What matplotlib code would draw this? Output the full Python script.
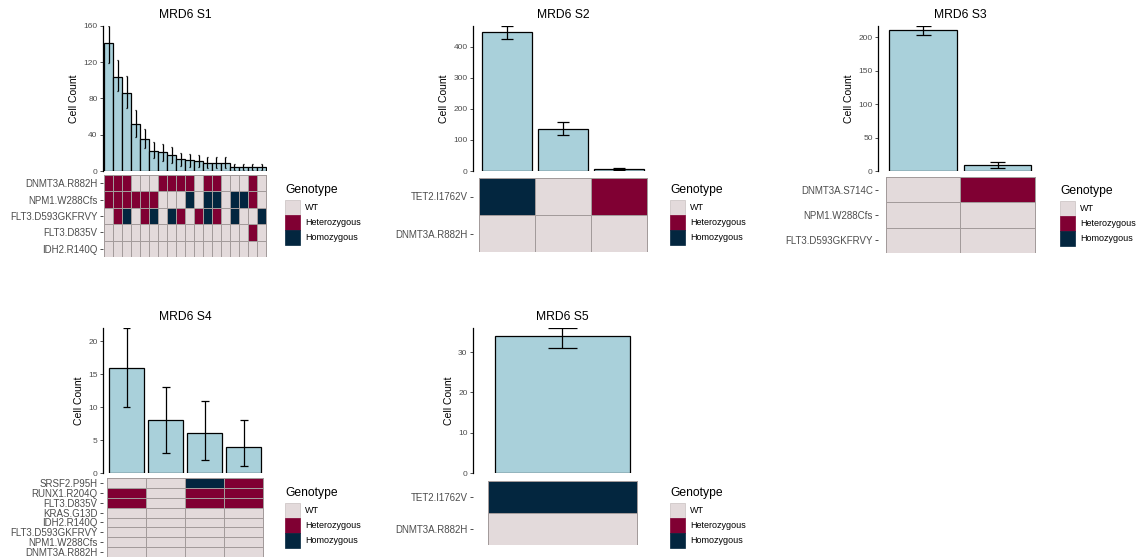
import matplotlib
matplotlib.use("Agg")
import matplotlib.pyplot as plt
import numpy as np
from matplotlib.colors import ListedColormap
from matplotlib.patches import Rectangle

plt.rcParams['font.family'] = ['Liberation Sans', 'DejaVu Sans']

W, H = 1145, 558

# genotype codes: 0 = WT, 1 = Heterozygous, 2 = Homozygous
geno_labels = ["WT", "Heterozygous", "Homozygous"]
geno_colors = ["#e3dadb", "#800033", "#03263f"]

# MRD6 S1
s1_counts = [141, 104, 86, 52, 35, 22, 21, 18, 13, 12, 11, 9, 9, 9, 4, 4, 4, 4]
s1_lo = [119, 88, 69, 38, 25, 14, 11, 9, 6, 4, 4, 3, 3, 3, 1, 1, 1, 1]
s1_hi = [160, 123, 105, 67, 46, 32, 30, 26, 20, 19, 18, 15, 15, 15, 8, 8, 8, 8]
s1_genes = ["DNMT3A.R882H", "NPM1.W288Cfs", "FLT3.D593GKFRVY", "FLT3.D835V", "IDH2.R140Q"]
s1_geno = [
    [1, 1, 1, 0, 0, 0, 1, 1, 1, 1, 0, 1, 1, 0, 0, 0, 1, 0],
    [1, 1, 1, 1, 1, 1, 0, 0, 0, 2, 0, 2, 2, 0, 2, 2, 1, 0],
    [0, 1, 2, 0, 1, 2, 0, 2, 1, 0, 1, 2, 1, 0, 2, 0, 0, 2],
    [0, 0, 0, 0, 0, 0, 0, 0, 0, 0, 0, 0, 0, 0, 0, 0, 1, 0],
    [0, 0, 0, 0, 0, 0, 0, 0, 0, 0, 0, 0, 0, 0, 0, 0, 0, 0],
]
s1_ticks = [0, 40, 80, 120, 160]

# MRD6 S2
s2_counts = [446, 135, 6]
s2_lo = [425, 116, 2]
s2_hi = [466, 156, 10]
s2_genes = ["TET2.I1762V", "DNMT3A.R882H"]
s2_geno = [[2, 0, 1], [0, 0, 0]]
s2_ticks = [0, 100, 200, 300, 400]

# MRD6 S3
s3_counts = [211, 9]
s3_lo = [204, 4]
s3_hi = [217, 14]
s3_genes = ["DNMT3A.S714C", "NPM1.W288Cfs", "FLT3.D593GKFRVY"]
s3_geno = [[0, 1], [0, 0], [0, 0]]
s3_ticks = [0, 50, 100, 150, 200]

# MRD6 S4
s4_counts = [16, 8, 6, 4]
s4_lo = [10, 3, 2, 1]
s4_hi = [22, 13, 11, 8]
s4_genes = ["SRSF2.P95H", "RUNX1.R204Q", "FLT3.D835V", "KRAS.G13D", "IDH2.R140Q",
            "FLT3.D593GKFRVY", "NPM1.W288Cfs", "DNMT3A.R882H"]
s4_geno = [[0, 0, 2, 1], [1, 0, 1, 1], [1, 0, 1, 1], [0, 0, 0, 0],
           [0, 0, 0, 0], [0, 0, 0, 0], [0, 0, 0, 0], [0, 0, 0, 0]]
s4_ticks = [0, 5, 10, 15, 20]

# MRD6 S5
s5_counts = [34]
s5_lo = [31]
s5_hi = [36]
s5_genes = ["TET2.I1762V", "DNMT3A.R882H"]
s5_geno = [[2], [0]]
s5_ticks = [0, 10, 20, 30]

BAR_FILL = "#a9d0da"
TILE_EDGE = "#a39b9b"
TEXT_GRAY = "#4d4d4d"

fig = plt.figure(figsize=(W / 100, H / 100), dpi=100)
fig.patch.set_facecolor("white")


def px_box(x0, y0, x1, y1):
    return [x0 / W, 1 - y1 / H, (x1 - x0) / W, (y1 - y0) / H]


def draw_panel(title, counts, lo, hi, genes, geno, ticks, x0, unit, bar_top, bar_bot, hm_top, hm_bot, leg_x, leg_y):
    n = len(counts)
    left = x0 - 0.1 * unit
    right = x0 + (n + 0.1) * unit
    ax = fig.add_axes(px_box(left, bar_top, right, bar_bot))
    xs = np.arange(1, n + 1)
    ax.bar(xs, counts, width=0.9, color=BAR_FILL, edgecolor="black", linewidth=0.9)
    ax.vlines(xs, lo, hi, color="black", linewidth=0.9)
    ax.hlines(lo, xs - 0.1, xs + 0.1, color="black", linewidth=0.9)
    ax.hlines(hi, xs - 0.1, xs + 0.1, color="black", linewidth=0.9)
    ax.set_xlim(0.4, n + 0.6)
    ax.set_ylim(0, max(hi))
    ax.set_yticks(ticks)
    ax.tick_params(axis="y", labelsize=6, colors="#333333", labelcolor=TEXT_GRAY, length=2.5, width=0.6, pad=1.5)
    ax.set_xticks([])
    for s in ["top", "right", "bottom"]:
        ax.spines[s].set_visible(False)
    ax.spines["left"].set_linewidth(0.9)
    ax.set_ylabel("Cell Count", fontsize=7.5, labelpad=3)
    ax.set_title(title, fontsize=8.7, pad=6)

    hm = fig.add_axes(px_box(left, hm_top, right, hm_bot))
    rows = len(genes)
    cmap = ListedColormap(geno_colors)
    hm.pcolormesh(np.arange(n + 1) + 0.5, np.arange(rows + 1), np.array(geno),
                  cmap=cmap, vmin=-0.5, vmax=2.5, edgecolors=TILE_EDGE, linewidth=0.5)
    hm.set_xlim(0.4, n + 0.6)
    hm.set_ylim(rows, 0)
    hm.set_yticks(np.arange(rows) + 0.5)
    hm.set_yticklabels(genes)
    hm.tick_params(axis="y", labelsize=7, colors="#333333", labelcolor=TEXT_GRAY, length=2.5, width=0.6, pad=1.5)
    hm.set_xticks([])
    for s in hm.spines.values():
        s.set_visible(False)

    # legend
    fig.text(leg_x / W, 1 - leg_y / H, "Genotype", fontsize=8.7, va="center", ha="left")
    key = 15
    for i, (lab, col) in enumerate(zip(geno_labels, geno_colors)):
        ky = leg_y + 10 + i * key
        fig.add_artist(Rectangle((leg_x / W, 1 - (ky + key) / H), key / W, key / H,
                                 transform=fig.transFigure, facecolor=col,
                                 edgecolor="#c8c0c0" if i == 0 else col, linewidth=0.5))
        fig.text((leg_x + key + 5) / W, 1 - (ky + key / 2) / H, lab, fontsize=6.5, va="center", ha="left")


draw_panel("MRD6 S1", s1_counts, s1_lo, s1_hi, s1_genes, s1_geno, s1_ticks,
           104, 9.0, 26, 171, 175, 257, 285, 190)
draw_panel("MRD6 S2", s2_counts, s2_lo, s2_hi, s2_genes, s2_geno, s2_ticks,
           479, 56.0, 26, 171, 178, 252, 670, 190)
draw_panel("MRD6 S3", s3_counts, s3_lo, s3_hi, s3_genes, s3_geno, s3_ticks,
           885.7, 74.7, 26, 171, 177, 253, 1060, 191)
draw_panel("MRD6 S4", s4_counts, s4_lo, s4_hi, s4_genes, s4_geno, s4_ticks,
           107, 39.1, 328, 473, 478, 557, 285, 493)
draw_panel("MRD6 S5", s5_counts, s5_lo, s5_hi, s5_genes, s5_geno, s5_ticks,
           488, 149.0, 328, 473, 481, 545, 670, 493)

fig.savefig("out.png", dpi=100)
